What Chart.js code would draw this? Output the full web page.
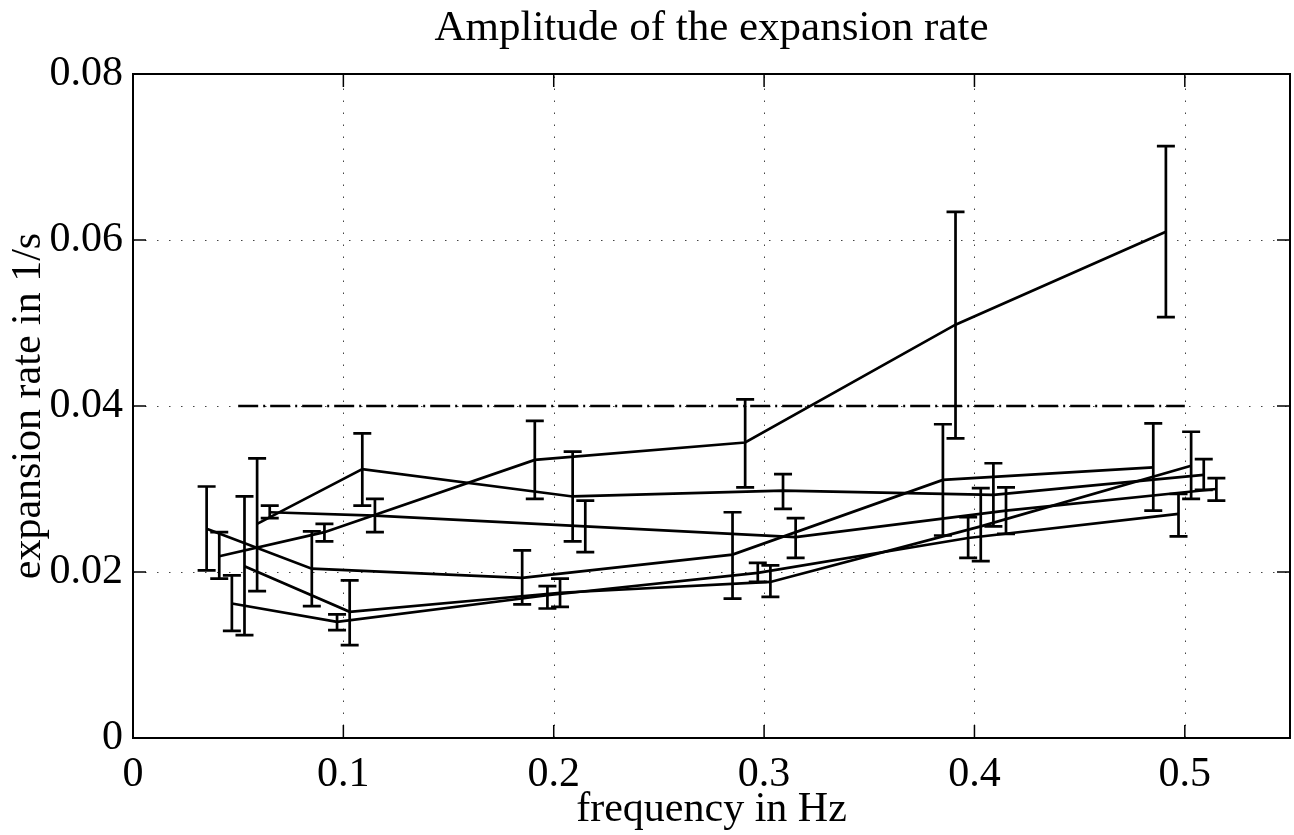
<!DOCTYPE html>
<html>
<head>
<meta charset="utf-8">
<script src="https://cdn.jsdelivr.net/npm/chart.js@4.4.0/dist/chart.umd.min.js"></script>
<style>
  html, body { margin: 0; padding: 0; background: #fff; }
</style>
</head>
<body>
<canvas id="chart" width="1294" height="835"></canvas>
<script>
const xTicks = [0, 0.1, 0.2, 0.3, 0.4, 0.5];
const yTicks = [0, 0.02, 0.04, 0.06, 0.08];
const xTickLabels = ['0', '0.1', '0.2', '0.3', '0.4', '0.5'];
const yTickLabels = ['0', '0.02', '0.04', '0.06', '0.08'];

// six runs, each measured at six frequencies (slightly shifted per run)
const freq1 = [0.035, 0.085, 0.185, 0.285, 0.385, 0.485];
const freq2 = [0.041, 0.091, 0.191, 0.291, 0.391, 0.491];
const freq3 = [0.047, 0.097, 0.197, 0.297, 0.397, 0.497];
const freq4 = [0.053, 0.103, 0.203, 0.303, 0.403, 0.503];
const freq5 = [0.059, 0.109, 0.209, 0.309, 0.409, 0.509];
const freq6 = [0.065, 0.115, 0.215, 0.315, 0.415, 0.515];

const rate1 = [0.0252, 0.0204, 0.0193, 0.0221, 0.0311, 0.0326];
const rate2 = [0.0219, 0.0248, 0.0335, 0.0356, 0.0498, 0.0610];
const rate3 = [0.0162, 0.0140, 0.0172, 0.0199, 0.0241, 0.0270];
const rate4 = [0.0207, 0.0152, 0.0175, 0.0188, 0.0255, 0.0328];
const rate5 = [0.0258, 0.0324, 0.0291, 0.0298, 0.0293, 0.0317];
const rate6 = [0.0272, 0.0268, 0.0255, 0.0242, 0.0274, 0.0300];

// error bar ends
const high1 = [0.0303, 0.0249, 0.0226, 0.0272, 0.0378, 0.0379];
const low1  = [0.0202, 0.0159, 0.0161, 0.0168, 0.0244, 0.0274];
const high2 = [0.0248, 0.0258, 0.0382, 0.0408, 0.0634, 0.0713];
const low2  = [0.0192, 0.0237, 0.0288, 0.0302, 0.0361, 0.0507];
const high3 = [0.0196, 0.0149, 0.0183, 0.0211, 0.0266, 0.0294];
const low3  = [0.0129, 0.0130, 0.0156, 0.0188, 0.0217, 0.0243];
const high4 = [0.0291, 0.0190, 0.0192, 0.0208, 0.0301, 0.0369];
const low4  = [0.0124, 0.0112, 0.0158, 0.0170, 0.0213, 0.0288];
const high5 = [0.0337, 0.0367, 0.0345, 0.0318, 0.0331, 0.0336];
const low5  = [0.0177, 0.0280, 0.0237, 0.0276, 0.0255, 0.0299];
const high6 = [0.0280, 0.0288, 0.0286, 0.0265, 0.0302, 0.0313];
const low6  = [0.0265, 0.0248, 0.0224, 0.0217, 0.0246, 0.0286];

// reference level
const refFreq = [0.05, 0.5];
const refRate = [0.04, 0.04];

const runs = [
  [freq1, rate1, low1, high1],
  [freq2, rate2, low2, high2],
  [freq3, rate3, low3, high3],
  [freq4, rate4, low4, high4],
  [freq5, rate5, low5, high5],
  [freq6, rate6, low6, high6]
];

const serif = 'Liberation Serif, Times New Roman, serif';
const bigFont = { family: serif, size: 42, weight: 'normal', lineHeight: 1.2 };

const datasets = runs.map(([f, r, lo, hi]) => ({
  data: f.map((x, i) => ({ x: x, y: r[i] })),
  errLow: lo,
  errHigh: hi,
  showLine: true,
  borderColor: '#000',
  borderWidth: 2.7,
  pointRadius: 0,
  tension: 0
}));
datasets.push({
  data: refFreq.map((x, i) => ({ x: x, y: refRate[i] })),
  showLine: true,
  borderColor: '#000',
  borderWidth: 2.7,
  borderDash: [20, 5, 2, 5],
  pointRadius: 0
});

// grille pointillée, barres d'erreur, cadre et graduations intérieures
const matlabAxes = {
  id: 'matlabAxes',
  beforeDatasetsDraw(chart) {
    const { ctx, chartArea: a, scales: { x, y } } = chart;
    ctx.save();
    ctx.strokeStyle = '#444';
    ctx.lineWidth = 1;
    ctx.setLineDash([1.5, 10.5]);
    xTicks.forEach(v => {
      const px = Math.round(x.getPixelForValue(v)) + 0.5;
      if (px < a.left + 3 || px > a.right - 3) return;
      ctx.beginPath(); ctx.moveTo(px, a.bottom); ctx.lineTo(px, a.top); ctx.stroke();
    });
    yTicks.forEach(v => {
      const py = Math.round(y.getPixelForValue(v)) + 0.5;
      if (py < a.top + 3 || py > a.bottom - 3) return;
      ctx.beginPath(); ctx.moveTo(a.left, py); ctx.lineTo(a.right, py); ctx.stroke();
    });
    ctx.restore();
  },
  afterDatasetsDraw(chart) {
    const { ctx, chartArea: a, scales: { x, y } } = chart;
    ctx.save();
    ctx.strokeStyle = '#000';
    ctx.lineWidth = 2.7;
    chart.data.datasets.forEach(ds => {
      if (!ds.errLow) return;
      ds.data.forEach((p, i) => {
        const px = x.getPixelForValue(p.x);
        const top = y.getPixelForValue(ds.errHigh[i]);
        const bot = y.getPixelForValue(ds.errLow[i]);
        ctx.beginPath();
        ctx.moveTo(px, top); ctx.lineTo(px, bot);
        ctx.moveTo(px - 9, top); ctx.lineTo(px + 9, top);
        ctx.moveTo(px - 9, bot); ctx.lineTo(px + 9, bot);
        ctx.stroke();
      });
    });

    ctx.lineWidth = 2;
    ctx.strokeRect(a.left, a.top, a.right - a.left, a.bottom - a.top);
    ctx.lineWidth = 1.5;
    const tl = 13;
    ctx.beginPath();
    xTicks.forEach(v => {
      const px = x.getPixelForValue(v);
      ctx.moveTo(px, a.bottom); ctx.lineTo(px, a.bottom - tl);
      ctx.moveTo(px, a.top); ctx.lineTo(px, a.top + tl);
    });
    yTicks.forEach(v => {
      const py = y.getPixelForValue(v);
      ctx.moveTo(a.left, py); ctx.lineTo(a.left + tl, py);
      ctx.moveTo(a.right, py); ctx.lineTo(a.right - tl, py);
    });
    ctx.stroke();
    ctx.restore();
  }
};

new Chart(document.getElementById('chart'), {
  type: 'scatter',
  data: { datasets: datasets },
  plugins: [matlabAxes],
  options: {
    responsive: false,
    animation: false,
    devicePixelRatio: 1,
    layout: { padding: { top: 0, right: 4, bottom: 0, left: 0 } },
    plugins: {
      legend: { display: false },
      tooltip: { enabled: false },
      title: {
        display: true,
        text: 'Amplitude of the expansion rate',
        color: '#000',
        font: { family: serif, size: 43, weight: 'normal', lineHeight: 1.2 },
        fullSize: false,
        padding: { top: 3, bottom: 19.4 }
      }
    },
    scales: {
      x: {
        type: 'linear',
        min: 0,
        max: 0.55,
        afterBuildTicks: s => { s.ticks = xTicks.map(v => ({ value: v })); },
        afterFit: s => { s.height = 97; },
        grid: { display: false, drawTicks: false },
        border: { display: false },
        ticks: {
          color: '#000',
          font: bigFont,
          padding: 12,
          maxRotation: 0,
          autoSkip: false,
          callback: (v, i) => xTickLabels[i]
        },
        title: {
          display: true,
          text: 'frequency in Hz',
          color: '#000',
          font: bigFont,
          padding: { top: 0, bottom: 0 }
        }
      },
      y: {
        type: 'linear',
        min: 0,
        max: 0.08,
        afterBuildTicks: s => { s.ticks = yTicks.map(v => ({ value: v })); },
        afterFit: s => { s.width = 133; },
        grid: { display: false, drawTicks: false },
        border: { display: false },
        ticks: {
          color: '#000',
          font: bigFont,
          padding: 10,
          autoSkip: false,
          callback: (v, i) => yTickLabels[i]
        },
        title: {
          display: true,
          text: 'expansion rate in 1/s',
          color: '#000',
          font: bigFont,
          padding: { top: 4, bottom: 0 }
        }
      }
    }
  }
});
</script>
</body>
</html>
